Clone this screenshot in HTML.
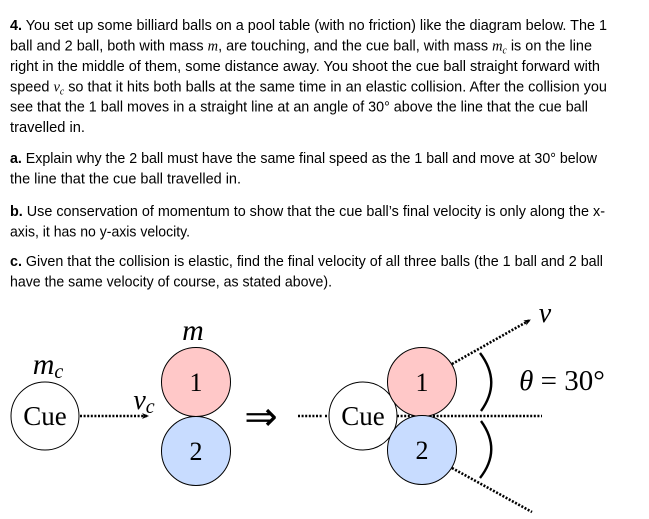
<!DOCTYPE html>
<html><head><style>
body{margin:0;background:#fff;width:649px;height:514px;overflow:hidden}
</style></head><body>
<svg width="649" height="514" xmlns="http://www.w3.org/2000/svg">
<defs>
<marker id="ar" markerWidth="8" markerHeight="8" refX="6" refY="4" orient="auto" markerUnits="userSpaceOnUse"><path d="M0,1 Q3,4 0,7 L7,4 Z" fill="#000"/></marker>
</defs>
<g font-family="Liberation Sans, sans-serif" font-size="15" fill="#000">
<text x="10" y="30" textLength="597" lengthAdjust="spacingAndGlyphs"><tspan font-weight="bold">4.</tspan> You set up some billiard balls on a pool table (with no friction) like the diagram below. The 1</text>
<text x="10" y="50.5" textLength="582" lengthAdjust="spacingAndGlyphs">ball and 2 ball, both with mass <tspan font-family="Liberation Serif, serif" font-style="italic">m</tspan>, are touching, and the cue ball, with mass <tspan font-family="Liberation Serif, serif" font-style="italic">m<tspan font-size="10" dy="3">c</tspan></tspan><tspan dy="-3"> is on the line</tspan></text>
<text x="10" y="71" textLength="590" lengthAdjust="spacingAndGlyphs">right in the middle of them, some distance away. You shoot the cue ball straight forward with</text>
<text x="10" y="91.5" textLength="597" lengthAdjust="spacingAndGlyphs">speed <tspan font-family="Liberation Serif, serif" font-style="italic">v<tspan font-size="10" dy="3">c</tspan></tspan><tspan dy="-3"> so that it hits both balls at the same time in an elastic collision. After the collision you</tspan></text>
<text x="10" y="111.5" textLength="578" lengthAdjust="spacingAndGlyphs">see that the 1 ball moves in a straight line at an angle of 30° above the line that the cue ball</text>
<text x="10" y="132" textLength="75" lengthAdjust="spacingAndGlyphs">travelled in.</text>
<text x="10" y="163" textLength="587" lengthAdjust="spacingAndGlyphs"><tspan font-weight="bold">a.</tspan> Explain why the 2 ball must have the same final speed as the 1 ball and move at 30° below</text>
<text x="10" y="183.5" textLength="231" lengthAdjust="spacingAndGlyphs">the line that the cue ball travelled in.</text>
<text x="10" y="216" textLength="595" lengthAdjust="spacingAndGlyphs"><tspan font-weight="bold">b.</tspan> Use conservation of momentum to show that the cue ball’s final velocity is only along the x-</text>
<text x="10" y="236.5" textLength="180" lengthAdjust="spacingAndGlyphs">axis, it has no y-axis velocity.</text>
<text x="10" y="266" textLength="593" lengthAdjust="spacingAndGlyphs"><tspan font-weight="bold">c.</tspan> Given that the collision is elastic, find the final velocity of all three balls (the 1 ball and 2 ball</text>
<text x="10" y="286.5" textLength="322" lengthAdjust="spacingAndGlyphs">have the same velocity of course, as stated above).</text>
</g>

<g stroke="#000" stroke-width="1" font-family="Liberation Serif, serif">
<circle cx="45" cy="416" r="34" fill="#fff"/>
<circle cx="196" cy="382" r="34.5" fill="#ffc8c8"/>
<circle cx="196" cy="451" r="34.5" fill="#c8dcff"/>
<line x1="80" y1="416" x2="148" y2="416" stroke-width="2.6" stroke-dasharray="2 1.6" marker-end="url(#ar)"/>
<line x1="298" y1="416" x2="322" y2="416" stroke-width="2.6" stroke-dasharray="2 1.6"/>
<line x1="325" y1="416" x2="542" y2="416" stroke-width="2.6" stroke-dasharray="2 1.6"/>
<circle cx="363" cy="416" r="34" fill="#fff"/>
<circle cx="422" cy="382" r="34.5" fill="#ffc8c8"/>
<circle cx="422" cy="450" r="34.5" fill="#c8dcff"/>
<line x1="452" y1="364" x2="530" y2="320" stroke-width="2.6" stroke-dasharray="2 1.6" marker-end="url(#ar)"/>
<line x1="452" y1="468" x2="532" y2="512" stroke-width="2.6" stroke-dasharray="2 1.6"/>
<path d="M480,353 Q502,382 481,411" fill="none" stroke-width="2.4"/>
<path d="M481,421 Q502,450 480,478" fill="none" stroke-width="2.4"/>
</g>
<g font-family="Liberation Serif, serif" fill="#000" text-anchor="middle">
<text x="45" y="425" font-size="27">Cue</text>
<text x="363" y="425" font-size="27">Cue</text>
<text x="196" y="391" font-size="26">1</text>
<text x="196" y="460" font-size="26">2</text>
<text x="422" y="391" font-size="26">1</text>
<text x="422" y="459" font-size="26">2</text>
<text x="193" y="340" font-size="30" font-style="italic">m</text>
<text x="48" y="374" font-size="30" font-style="italic">m<tspan font-size="20" dy="4">c</tspan></text>
<text x="144" y="409" font-size="28" font-style="italic">v<tspan font-size="20" dy="4">c</tspan></text>
<text x="545" y="322" font-size="28" font-style="italic">v</text>
<text x="261" y="430" font-size="40">⇒</text>
<text x="562" y="390" font-size="29"><tspan font-style="italic">θ</tspan> = 30°</text>
</g>
</svg>
</body></html>
